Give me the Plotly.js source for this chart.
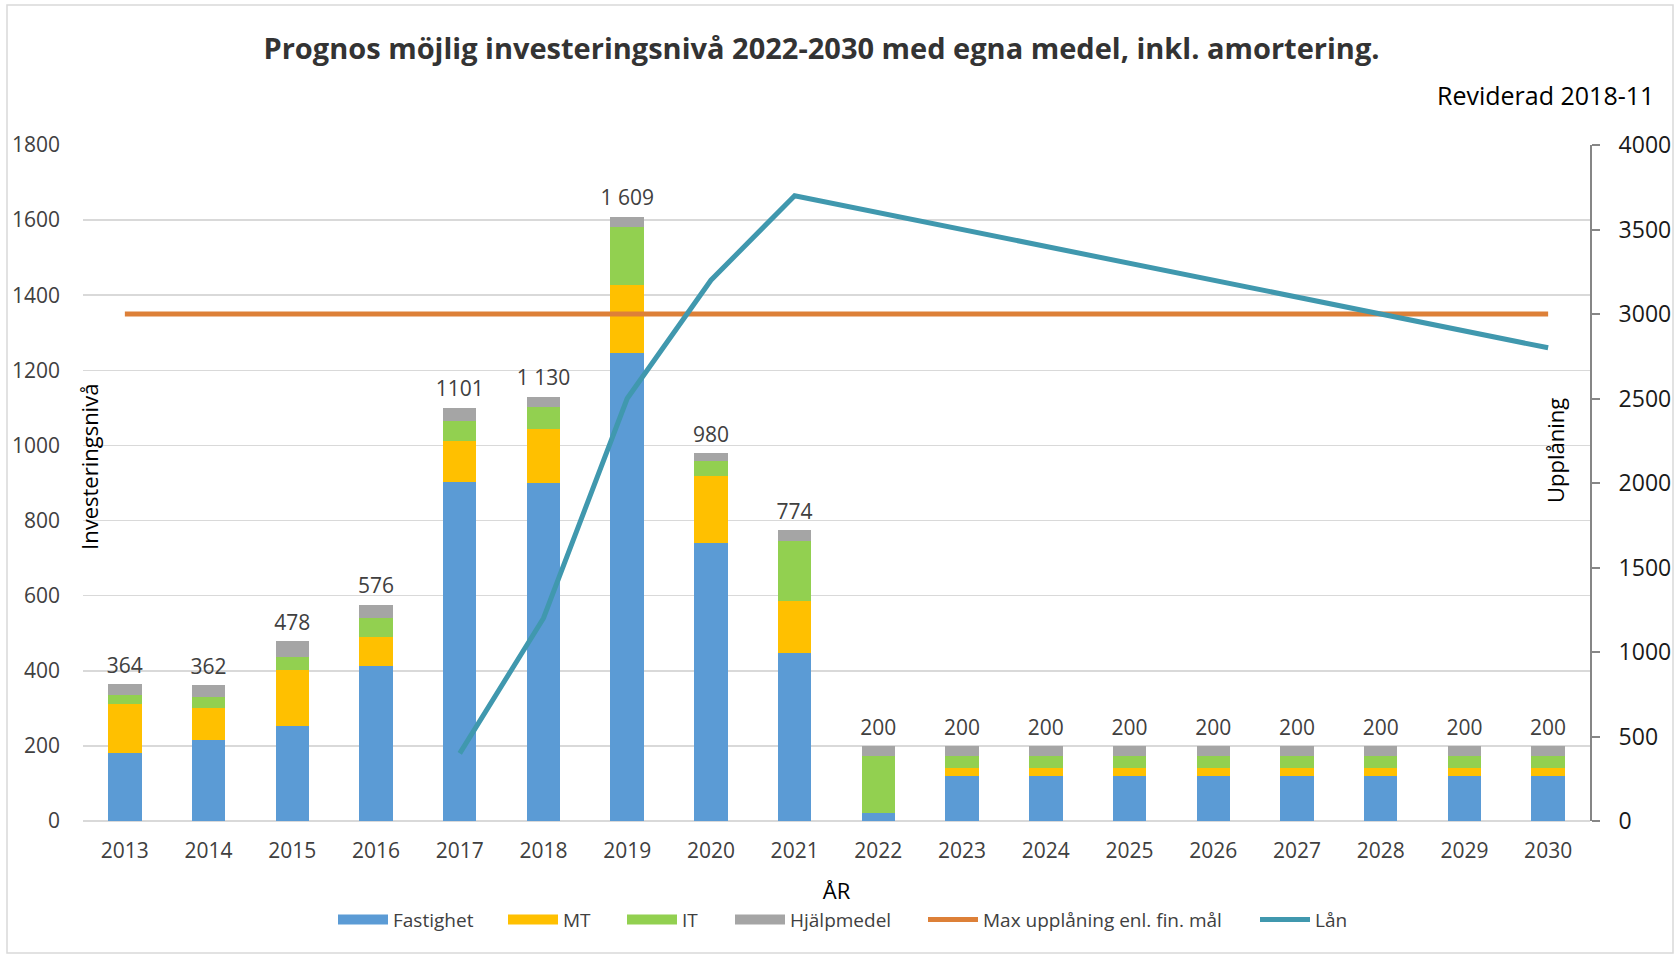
<!DOCTYPE html>
<html>
<head>
<meta charset="utf-8">
<script src="https://cdn.plot.ly/plotly-3.0.1.min.js"></script>
<style>
  html, body { margin: 0; padding: 0; background: #fff; }
  #chart { width: 1680px; height: 955px; }
</style>
</head>
<body>
<div id="chart"></div>
<script>
const years = ['2013','2014','2015','2016','2017','2018','2019','2020','2021','2022','2023','2024','2025','2026','2027','2028','2029','2030'];
const fastighet = [180, 217, 252, 412, 902, 899, 1247, 740, 448, 20, 120, 120, 120, 120, 120, 120, 120, 120];
const mt = [131, 83, 149, 77, 110, 145, 181, 179, 137, 0, 22, 22, 22, 22, 22, 22, 22, 22];
const it = [24, 29, 36, 52, 53, 58, 154, 40, 160, 152, 30, 30, 30, 30, 30, 30, 30, 30];
const hjalpmedel = [29, 33, 41, 35, 36, 28, 27, 21, 29, 28, 28, 28, 28, 28, 28, 28, 28, 28];
const totalLabels = ['364','362','478','576','1101','1 130','1 609','980','774','200','200','200','200','200','200','200','200','200'];
const maxUpplaning = [3000, 3000, 3000, 3000, 3000, 3000, 3000, 3000, 3000, 3000, 3000, 3000, 3000, 3000, 3000, 3000, 3000, 3000];
const lanYears = ['2017','2018','2019','2020','2021','2022','2023','2024','2025','2026','2027','2028','2029','2030'];
const lan = [400, 1200, 2500, 3200, 3700, 3600, 3500, 3400, 3300, 3200, 3100, 3000, 2900, 2800];

const totals = years.map((_, i) => fastighet[i] + mt[i] + it[i] + hjalpmedel[i]);

const FONT = 'Open Sans, Noto Sans, sans-serif';
const TXT = '#404040';
const barColors = { Fastighet: '#5B9BD5', MT: '#FFC000', IT: '#92D050', 'Hjälpmedel': '#A5A5A5' };

function barTrace(name, vals) {
  return { type: 'bar', name: name, x: years, y: vals, marker: { color: barColors[name] },
           hoverinfo: 'skip', showlegend: false, legendgroup: name };
}
function legendSwatch(name, leg) {
  return { type: 'scatter', mode: 'lines', name: name, x: [null], y: [null], legend: leg,
           line: { color: barColors[name], width: 15 }, legendgroup: name, hoverinfo: 'skip' };
}

const traces = [
  barTrace('Fastighet', fastighet),
  barTrace('MT', mt),
  barTrace('IT', it),
  barTrace('Hjälpmedel', hjalpmedel),
  legendSwatch('Fastighet', 'legend'),
  legendSwatch('MT', 'legend2'),
  legendSwatch('IT', 'legend3'),
  legendSwatch('Hjälpmedel', 'legend4'),
  { type: 'scatter', mode: 'markers+text', x: years, y: totals, text: totalLabels, textposition: 'top center',
    marker: { size: 8, color: 'rgba(0,0,0,0)' },
    textfont: { family: FONT, size: 21, color: TXT }, showlegend: false, hoverinfo: 'skip', cliponaxis: false },
  { type: 'scatter', mode: 'lines', name: 'Max upplåning enl. fin. mål', x: years, y: maxUpplaning, yaxis: 'y2',
    legend: 'legend5', line: { color: '#DD8038', width: 5 }, hoverinfo: 'skip' },
  { type: 'scatter', mode: 'lines', name: 'Lån', x: lanYears, y: lan, yaxis: 'y2',
    legend: 'legend6', line: { color: '#4098AE', width: 5 }, hoverinfo: 'skip' }
];

function legendAt(px) {
  return {
    orientation: 'h', x: (px - 83) / 1507, xanchor: 'left', y: -0.146, yanchor: 'middle',
    font: { family: FONT, size: 19, color: TXT }, itemwidth: 50,
    bgcolor: 'rgba(0,0,0,0)', borderwidth: 0
  };
}

const layout = {
  width: 1680, height: 955,
  margin: { l: 83, r: 90, t: 145, b: 134 },
  paper_bgcolor: '#ffffff', plot_bgcolor: '#ffffff',
  barmode: 'stack', bargap: 0.6,
  font: { family: FONT, color: TXT },
  showlegend: true,
  title: {
    text: '<b>Prognos möjlig investeringsnivå 2022-2030 med egna medel, inkl. amortering.</b>',
    font: { family: FONT, size: 29, color: '#333333' },
    x: 0.489, xref: 'container', xanchor: 'center',
    y: 0.9487, yref: 'container', yanchor: 'middle'
  },
  xaxis: {
    type: 'category', categoryorder: 'array', categoryarray: years,
    range: [-0.5, years.length - 0.5], autorange: false,
    showgrid: false, showline: false, ticks: '', zeroline: false,
    tickfont: { family: FONT, size: 21, color: TXT },
    ticklabelstandoff: 15,
    title: { text: 'ÅR', font: { family: FONT, size: 22, color: '#000000' }, standoff: 20 },
    automargin: false
  },
  yaxis: {
    range: [0, 1800], dtick: 200, tick0: 0, autorange: false,
    showgrid: true, gridcolor: '#D9D9D9', gridwidth: 1.5,
    zeroline: true, zerolinecolor: '#D9D9D9', zerolinewidth: 2,
    showline: false, ticks: '',
    tickfont: { family: FONT, size: 21, color: TXT },
    ticklabelstandoff: 22,
    automargin: false
  },
  yaxis2: {
    overlaying: 'y', side: 'right',
    range: [0, 4000], dtick: 500, tick0: 0, autorange: false,
    showgrid: false, zeroline: false,
    showline: true, linecolor: '#868686', linewidth: 2,
    ticks: 'outside', ticklen: 8, tickcolor: '#868686', tickwidth: 2,
    tickfont: { family: FONT, size: 23, color: '#1a1a1a' },
    ticklabelstandoff: 14,
    automargin: false
  },
  legend: legendAt(333),
  legend2: legendAt(503),
  legend3: legendAt(622),
  legend4: legendAt(730),
  legend5: legendAt(923),
  legend6: legendAt(1255),
  annotations: [
    { text: 'Reviderad 2018-11', xref: 'paper', yref: 'paper',
      x: (1656 - 83) / 1507, y: (821 - 95) / 676, xanchor: 'right', yanchor: 'middle',
      showarrow: false, font: { family: FONT, size: 25, color: '#000000' } },
    { text: 'Investeringsnivå', xref: 'paper', yref: 'paper', textangle: -90,
      x: (89 - 83) / 1507, y: (821 - 467) / 676, xanchor: 'center', yanchor: 'middle',
      showarrow: false, font: { family: FONT, size: 22, color: '#000000' } },
    { text: 'Upplåning', xref: 'paper', yref: 'paper', textangle: -90,
      x: (1555 - 83) / 1507, y: (821 - 451) / 676, xanchor: 'center', yanchor: 'middle',
      showarrow: false, font: { family: FONT, size: 22, color: '#000000' } }
  ],
  shapes: [
    { type: 'rect', xref: 'paper', yref: 'paper',
      x0: (7 - 83) / 1507, x1: (1673 - 83) / 1507, y0: (821 - 953) / 676, y1: (821 - 5) / 676,
      line: { color: '#D9D9D9', width: 1.5 }, fillcolor: 'rgba(0,0,0,0)', layer: 'below' }
  ]
};

Plotly.newPlot('chart', traces, layout, { displayModeBar: false, staticPlot: true });
</script>
</body>
</html>
